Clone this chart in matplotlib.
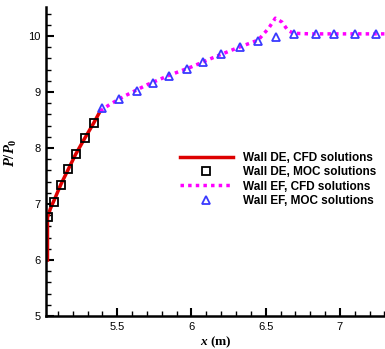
import matplotlib
matplotlib.use("Agg")
import matplotlib.pyplot as plt
from matplotlib.ticker import MultipleLocator

# Wall DE, CFD solutions
de_cfd_x = [5.03, 5.03, 5.05, 5.08, 5.12, 5.17, 5.22, 5.28, 5.34, 5.385]
de_cfd_y = [6.0, 6.76, 6.92, 7.10, 7.35, 7.62, 7.89, 8.17, 8.44, 8.66]
# Wall DE, MOC solutions
de_moc_x = [5.034, 5.075, 5.12, 5.17, 5.22, 5.28, 5.345]
de_moc_y = [6.77, 7.04, 7.34, 7.62, 7.89, 8.18, 8.45]
# Wall EF, CFD solutions
ef_cfd_x = [5.385, 5.45, 5.55, 5.70, 5.85, 6.0, 6.15, 6.30, 6.45, 6.52,
            6.565, 6.61, 6.65, 6.69, 6.80, 7.0, 7.30]
ef_cfd_y = [8.66, 8.78, 8.93, 9.13, 9.30, 9.45, 9.62, 9.78, 9.93, 10.14,
            10.32, 10.25, 10.10, 10.05, 10.04, 10.04, 10.04]
# Wall EF, MOC solutions
ef_moc_x = [5.40, 5.51, 5.63, 5.74, 5.85, 5.97, 6.08, 6.20, 6.33, 6.45,
            6.57, 6.69, 6.84, 6.96, 7.10, 7.24]
ef_moc_y = [8.71, 8.87, 9.02, 9.16, 9.29, 9.41, 9.54, 9.68, 9.80, 9.91,
            9.98, 10.04, 10.04, 10.04, 10.04, 10.04]

labels = ["Wall DE, CFD solutions", "Wall DE, MOC solutions",
          "Wall EF, CFD solutions", "Wall EF, MOC solutions"]

plt.rcParams['mathtext.fontset'] = 'custom'
plt.rcParams['mathtext.rm'] = 'Liberation Serif:bold'
plt.rcParams['mathtext.it'] = 'Liberation Serif:italic:bold'
plt.rcParams['mathtext.bf'] = 'Liberation Serif:bold'

fig = plt.figure(figsize=(3.85, 3.49), dpi=100)
ax = fig.add_axes([46/385, 33/349, 1 - 46/385, (316-7)/349])

ax.plot(de_cfd_x, de_cfd_y, color='#dd0000', lw=2.5, label=labels[0], zorder=2)
ax.plot(de_moc_x, de_moc_y, ls='none', marker='s', ms=6, mfc='none',
        mec='black', mew=1.3, label=labels[1], zorder=4)
ax.plot(ef_cfd_x, ef_cfd_y, color='#ff00ff', lw=2.5, ls=(0, (1, 1.2)),
        label=labels[2], zorder=2)
ax.plot(ef_moc_x, ef_moc_y, ls='none', marker='^', ms=6, mfc='none',
        mec='#3a3aff', mew=1.3, label=labels[3], zorder=4)

ax.set_xlim(5.02, 7.304)
ax.set_ylim(5, 10.52)
ax.xaxis.set_major_locator(MultipleLocator(0.5))
ax.xaxis.set_minor_locator(MultipleLocator(0.1))
ax.yaxis.set_major_locator(MultipleLocator(1))
ax.yaxis.set_minor_locator(MultipleLocator(0.2))
ax.xaxis.set_major_formatter(matplotlib.ticker.FuncFormatter(lambda v, p: f"{v:g}"))
ax.yaxis.set_major_formatter(matplotlib.ticker.FuncFormatter(lambda v, p: f"{v:g}"))

for s in ['top', 'right']:
    ax.spines[s].set_visible(False)
for s in ['left', 'bottom']:
    ax.spines[s].set_linewidth(1.8)
ax.tick_params(which='major', direction='in', length=6, width=1.5,
               labelsize=8, pad=4)
ax.tick_params(which='minor', direction='in', length=3.5, width=1.0)
for lab in ax.get_xticklabels() + ax.get_yticklabels():
    lab.set_fontfamily('Liberation Sans')

ax.set_xlabel(r'$x$ (m)', fontfamily='Liberation Serif', fontweight='bold',
              fontsize=9.5, labelpad=2)
ax.set_ylabel(r'$P/P_0$', fontsize=10.5)
ax.yaxis.set_label_coords(-0.08, 0.53)

leg = ax.legend(loc='upper left', bbox_to_anchor=(0.381, 0.545), frameon=False,
                prop={'family': 'Liberation Sans', 'weight': 'bold', 'size': 8.5},
                handlelength=4.5, handletextpad=0.85, labelspacing=0.18,
                borderaxespad=0)

fig.savefig('out.png', dpi=100)
